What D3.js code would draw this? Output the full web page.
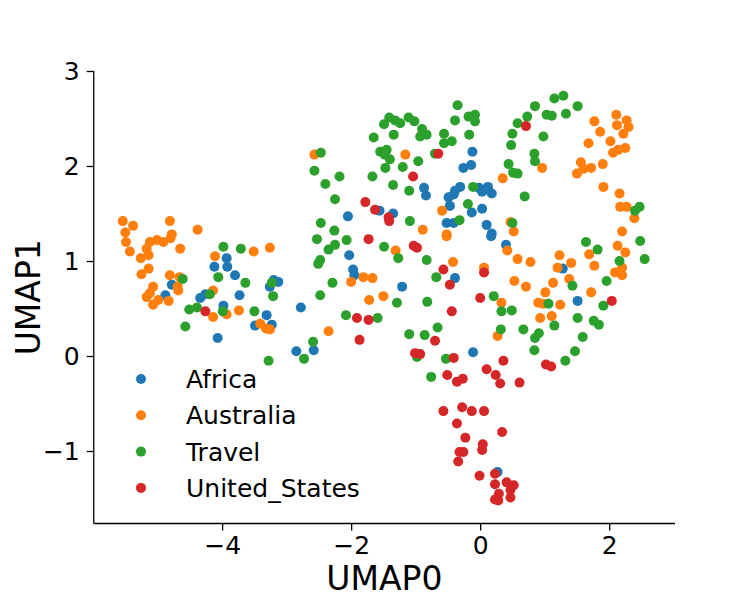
<!DOCTYPE html>
<html>
<head>
<meta charset="utf-8">
<script src="https://cdn.jsdelivr.net/npm/d3@7"></script>
<style>
  body { margin: 0; background: #fff; }
  text { font-family: "DejaVu Sans", sans-serif; fill: #000; }
</style>
</head>
<body>
<svg id="chart" width="750" height="600"></svg>
<script>
const categories = ["Africa", "Australia", "Travel", "United_States"];
const colors = ["#1f77b4", "#ff7f0e", "#2ca02c", "#d62728"];

const africa = [
  [-3.93,1.03],[-4.12,0.94],[-3.92,0.94],[-3.80,0.85],[-4.78,0.75],[-4.88,0.64],[-4.34,0.61],[-4.26,0.65],
  [-3.73,0.64],[-3.98,0.53],[-3.31,0.43],[-3.49,0.32],[-3.23,0.33],[-4.07,0.19],[-3.20,0.80],[-3.13,0.78],[-3.26,0.73],
  [-0.12,2.15],[-0.26,1.98],[-0.14,2.01],[-0.87,1.77],[-0.84,1.69],[-1.56,1.53],[-1.35,1.50],[-2.05,1.47],
  [-0.49,1.67],[-0.39,1.74],[-0.31,1.78],[-0.41,1.70],[-0.47,1.58],[-0.13,1.51],[-0.52,1.40],[-0.41,1.40],[-0.02,1.77],
  [0.08,1.75],[0.18,1.71],[0.03,1.73],[0.03,1.55],[0.10,1.38],[0.18,1.29],[0.12,1.78],
  [-2.03,1.06],[-1.97,0.91],[-1.95,0.85],[-1.21,0.73],[-0.39,0.82],[-2.78,0.51],[-2.85,0.05],[-2.58,0.06],[-0.11,0.04],
  [0.40,1.17],[0.17,1.26],[1.28,0.92],[1.51,0.58],[0.27,-1.22]
];

const australia = [
  [-5.54,1.42],[-5.38,1.37],[-5.50,1.30],[-4.81,1.42],[-4.78,1.28],[-4.38,1.33],
  [-5.49,1.20],[-5.43,1.10],[-5.26,1.03],[-5.14,1.06],[-5.17,1.13],[-5.12,1.20],[-5.01,1.22],[-4.91,1.20],
  [-4.80,1.24],[-4.65,1.13],[-5.14,0.92],[-5.25,0.86],[-4.81,0.85],[-4.66,0.83],[-4.69,0.73],[-4.68,0.69],
  [-5.07,0.73],[-5.17,0.62],[-5.07,0.54],[-4.99,0.59],[-4.83,0.58],[-5.12,0.66],[-4.11,1.05],[-3.51,1.10],
  [-3.26,1.14],[-4.14,0.69],[-4.14,0.41],[-3.93,0.44],[-3.74,0.48],[-3.41,0.34],[-3.32,0.29],[-3.26,0.28],
  [-2.57,2.12],[-1.16,2.12],[-0.59,1.53],[-0.89,1.33],[-0.52,1.28],
  [1.77,2.47],[2.11,2.54],[2.27,2.48],[2.12,2.43],[2.30,2.41],[2.22,2.34],[1.86,2.36],[2.02,2.26],[1.68,2.24],
  [2.25,2.19],[2.14,2.17],[2.06,2.14],[1.56,2.04],[1.60,1.97],[1.50,1.92],[1.72,1.98],[1.90,2.02],[0.96,1.98],
  [0.35,1.87],[1.91,1.78],[2.16,1.71],[2.17,1.57],[2.27,1.57],[2.39,1.45],[0.47,1.41],[0.52,1.31],[2.20,1.31],
  [-0.52,1.26],[-1.31,1.11],[-0.42,0.99],[-1.81,0.83],[-1.67,0.82],[-2.00,0.78],[-1.72,0.59],[-1.50,0.63],[-2.35,0.26],
  [0.42,1.11],[0.58,1.02],[0.78,0.99],[1.23,1.06],[1.20,0.93],[1.41,0.98],[0.53,0.79],[0.71,0.73],[1.13,0.77],
  [1.38,0.81],[1.01,0.67],[0.90,0.56],[0.98,0.55],[1.24,0.54],[1.11,0.42],[0.93,0.40],[0.33,0.56],[0.27,0.21],
  [1.72,0.67],[1.69,1.07],[1.77,0.95],[2.13,1.16],[2.25,1.09],[2.20,0.93],[2.09,0.88],[2.20,0.85],[0.06,0.93]
];

const travel = [
  [-3.98,1.15],[-3.71,1.13],[-4.06,0.83],[-3.64,0.77],[-4.61,0.81],[-4.19,0.65],[-4.51,0.49],[-4.39,0.51],
  [-3.99,0.47],[-3.50,0.47],[-3.23,0.77],[-3.21,0.63],[-4.57,0.31],[-3.28,-0.05],
  [-0.35,2.64],[-0.39,2.48],[-0.18,2.52],[-0.08,2.54],[-0.08,2.47],[-0.17,2.33],[-1.41,2.51],[-1.32,2.48],
  [-1.24,2.45],[-1.49,2.44],[-1.11,2.51],[-1.02,2.47],[-1.65,2.30],[-1.34,2.33],[-0.90,2.39],[-0.93,2.31],
  [-0.83,2.33],[-0.56,2.34],[-0.56,2.24],[-0.44,2.26],[-2.47,2.14],[-1.55,2.15],[-1.45,2.17],[-1.48,2.12],
  [-1.40,2.07],[-0.96,2.05],[-1.47,1.98],[-1.20,1.99],[-2.57,1.95],[-2.18,1.89],[-1.67,1.89],[-2.40,1.81],
  [-1.35,1.80],[-1.10,1.74],[-0.70,2.13],[-0.11,1.78],[-2.25,1.65],[-0.19,1.60],[-0.32,1.43],[-2.47,1.40],
  [-2.26,1.32],[-1.09,1.42],
  [1.15,2.71],[1.29,2.74],[0.85,2.63],[1.51,2.63],[1.03,2.54],[1.11,2.53],[1.33,2.55],[0.73,2.52],[0.58,2.45],
  [0.50,2.34],[0.98,2.31],[0.48,2.22],[0.84,2.13],[0.85,2.05],[0.44,2.02],[0.51,1.93],[0.58,1.92],[0.69,1.68],
  [2.40,1.53],[2.47,1.57],[0.50,1.40],
  [-2.53,1.23],[-2.25,1.17],[-2.35,1.12],[-2.07,1.22],[-2.48,1.01],[-2.51,0.97],[-1.49,1.15],[-1.27,1.03],
  [-0.83,1.01],[-0.68,0.83],[-2.29,0.77],[-2.48,0.64],[-1.29,0.56],[-0.82,0.57],[-2.08,0.43],[-1.59,0.40],
  [-0.66,0.30],[-1.10,0.23],[-0.86,0.22],[-2.59,0.15],[-2.73,-0.03],[-0.98,-0.01],[-0.53,-0.03],[-0.76,-0.22],
  [1.64,1.20],[1.82,1.12],[2.48,1.21],[2.55,1.02],[2.16,1.00],[1.96,0.79],[1.43,0.74],[1.06,0.55],[0.21,0.63],
  [0.49,0.48],[0.33,0.47],[0.32,0.28],[0.67,0.28],[1.15,0.32],[1.51,0.40],[1.91,0.53],[1.76,0.37],[1.84,0.33],
  [0.91,0.24],[0.85,0.19],[1.59,0.20],[0.84,0.06],[1.47,0.05],[1.32,-0.05]
];

const unitedStates = [
  [-4.26,0.47],
  [-0.65,2.13],[-1.04,1.89],[-1.78,1.62],[-1.63,1.54],[-1.42,1.46],[-1.41,1.42],[0.71,2.42],
  [-1.73,1.23],[-1.03,1.16],[-0.98,1.14],[-0.57,0.91],[-0.47,0.75],[-1.91,0.40],[-1.73,0.38],[-1.87,0.17],
  [-0.70,0.16],[-0.44,0.47],[-1.01,0.03],[-0.93,0.02],[-0.41,-0.02],[-0.51,-0.20],[-0.36,-0.27],[-0.27,-0.24],[0.00,0.61],
  [0.06,0.88],[2.04,0.58],[0.36,-0.05],[1.02,-0.09],[1.10,-0.11],[0.10,-0.14],[0.24,-0.20],[0.31,-0.29],[0.61,-0.28],
  [-0.57,-0.58],[-0.28,-0.54],[-0.13,-0.58],[-0.36,-0.71],[-0.23,-0.86],[-0.32,-1.01],[-0.26,-1.01],[-0.34,-1.11],[-0.01,-1.26],
  [0.06,-0.58],[0.34,-0.80],[0.04,-0.93],[0.03,-0.99],[0.23,-1.24],[0.23,-1.35],[0.41,-1.33],[0.52,-1.36],
  [0.47,-1.41],[0.29,-1.45],[0.23,-1.51],[0.47,-1.49],[0.28,-1.52]
];

const series = [africa, australia, travel, unitedStates];
const xTicks = [-4, -2, 0, 2];
const yTicks = [-1, 0, 1, 2, 3];

const svg = d3.select("#chart");
const plotLeft = 93.75, plotRight = 675, plotTop = 71, plotBottom = 523.5;

const x = d3.scaleLinear().domain([-5.99, 3.02]).range([plotLeft, plotRight]);
const y = d3.scaleLinear().domain([-1.763, 3.0]).range([plotBottom, plotTop]);

const minusFmt = d => String(d).replace("-", "\u2212");

// points, in category order so later groups sit on top
series.forEach((pts, i) => {
  svg.append("g")
    .selectAll("circle")
    .data(pts)
    .enter()
    .append("circle")
    .attr("cx", d => x(d[0]))
    .attr("cy", d => y(d[1]))
    .attr("r", 5)
    .attr("fill", colors[i]);
});

// axes (only left and bottom spines)
const xAxis = svg.append("g")
  .attr("transform", `translate(0,${plotBottom})`)
  .call(d3.axisBottom(x).tickValues(xTicks).tickSize(7).tickPadding(6).tickFormat(minusFmt));
const yAxis = svg.append("g")
  .attr("transform", `translate(${plotLeft},0)`)
  .call(d3.axisLeft(y).tickValues(yTicks).tickSize(7).tickPadding(7).tickFormat(minusFmt));

xAxis.select(".domain").attr("d", `M${plotLeft},0H${plotRight}`);
yAxis.select(".domain").attr("d", `M0,${plotBottom}V${plotTop}`);

[xAxis, yAxis].forEach(a => {
  a.select(".domain").attr("stroke", "#000").attr("stroke-width", 1.3);
  a.selectAll(".tick line").attr("stroke", "#000").attr("stroke-width", 1.3);
  a.selectAll(".tick text")
    .style("font-family", "DejaVu Sans")
    .style("font-size", "25px")
    .attr("fill", "#000");
});

// axis titles
svg.append("text")
  .attr("x", (plotLeft + plotRight) / 2)
  .attr("y", 590)
  .attr("text-anchor", "middle")
  .style("font-size", "33px")
  .text("UMAP0");

svg.append("text")
  .attr("transform", `translate(40,${(plotTop + plotBottom) / 2}) rotate(-90)`)
  .attr("text-anchor", "middle")
  .style("font-size", "33px")
  .text("UMAP1");

// legend
const legend = svg.append("g");
categories.forEach((c, i) => {
  const ly = 379 + i * 36.3;
  legend.append("circle")
    .attr("cx", 141)
    .attr("cy", ly)
    .attr("r", 5)
    .attr("fill", colors[i]);
  legend.append("text")
    .attr("x", 186)
    .attr("y", ly + 9)
    .style("font-size", "25px")
    .text(c);
});
</script>
</body>
</html>
